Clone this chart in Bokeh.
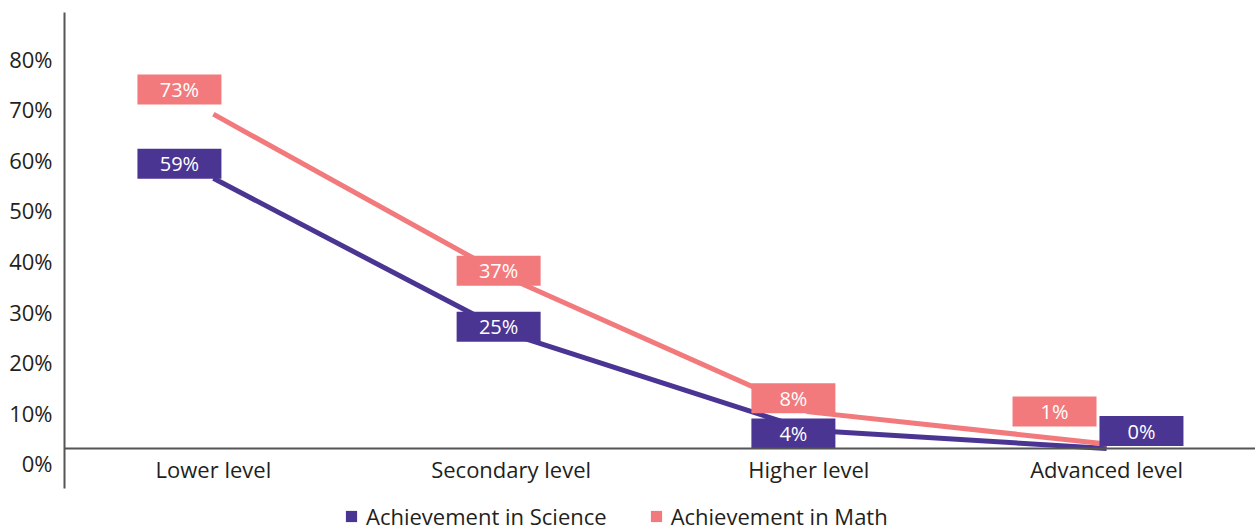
from bokeh.plotting import figure
from bokeh.models import (Range1d, LinearAxis, FixedTicker, Legend, LegendItem,
                          ColumnDataSource, Span)
from bokeh.core.properties import value
from bokeh.embed import file_html
from bokeh.resources import INLINE

# ---- data -------------------------------------------------------------
categories = ["Lower level", "Secondary level", "Higher level", "Advanced level"]
science = [59, 25, 4, 0]
math = [73, 37, 8, 1]
y_ticks = [0, 10, 20, 30, 40, 50, 60, 70, 80]
y_tick_labels = ["0%", "10%", "20%", "30%", "40%", "50%", "60%", "70%", "80%"]
series_names = ["Achievement in Science", "Achievement in Math"]

# ---- style ------------------------------------------------------------
FONT = "Open Sans"
PURPLE = "#4B3593"
SALMON = "#F27A7C"
AXIS = "#555555"
TEXT = "#231F20"

# label box nudges (category units, percentage points)
sci_dx = [-0.114, -0.042, -0.052, 0.117]
sci_dy = [3.2, 1.6, -0.7, 3.8]
math_dx = [-0.114, -0.042, -0.052, -0.175]
math_dy = [5.4, 1.8, 3.0, 7.1]
cat_label_y = -4.4   # row for the category names, below the zero line

xs = list(range(len(categories)))

p = figure(width=1255, height=531,
           x_range=Range1d(-0.5, len(categories) - 0.5),
           y_range=Range1d(-18.12, 95.2),
           output_backend="svg", toolbar_location=None,
           x_axis_location=None, y_axis_location=None,
           min_border_left=64, min_border_right=0, min_border_top=12,
           min_border_bottom=0)
p.outline_line_color = None
p.xgrid.visible = False
p.ygrid.visible = False
p.background_fill_color = "white"
p.border_fill_color = "white"

# percentage scale on the left
p.extra_y_ranges = {"pct": Range1d(-13.51, 89.16)}
yax = LinearAxis(y_range_name="pct", ticker=FixedTicker(ticks=y_ticks),
                 bounds=(-5.0, 89.16),
                 major_label_overrides={t: s for t, s in zip(y_ticks, y_tick_labels)})
yax.axis_line_color = AXIS
yax.axis_line_width = 2
yax.major_tick_line_color = None
yax.minor_tick_line_color = None
yax.major_tick_out = 0
yax.major_tick_in = 0
yax.major_label_standoff = 12
yax.major_label_text_font = FONT
yax.major_label_text_font_size = "22px"
yax.major_label_text_color = TEXT
p.add_layout(yax, "left")

# zero line and category names
p.add_layout(Span(location=0, dimension="width", line_color=AXIS, line_width=2))
p.text(xs, [cat_label_y] * len(xs), text=categories, text_align="center",
       text_baseline="middle", text_color=TEXT, text_font=value(FONT),
       text_font_size="22px")

# lines
p.line(xs, science, line_color=PURPLE, line_width=5)
p.line(xs, math, line_color=SALMON, line_width=5)

# value labels in boxes
def boxes(vals, dx, dy, color):
    src = ColumnDataSource(dict(
        x=[i + d for i, d in zip(xs, dx)],
        y=[v + d for v, d in zip(vals, dy)],
        t=[f"{v}%" for v in vals]))
    r = p.rect("x", "y", width=84, height=30, width_units="screen",
               height_units="screen", fill_color=color, line_color=None,
               source=src)
    p.text("x", "y", text="t", text_align="center", text_baseline="middle",
           text_color="white", text_font=value(FONT), text_font_size="20px",
           source=src)
    return r

r_sci = boxes(science, sci_dx, sci_dy, PURPLE)
r_math = boxes(math, math_dx, math_dy, SALMON)

legend = Legend(items=[LegendItem(label=series_names[0], renderers=[r_sci]),
                       LegendItem(label=series_names[1], renderers=[r_math])],
                orientation="horizontal", location=(280, 0),
                label_text_font=FONT, label_text_font_size="22px",
                label_text_color=TEXT, glyph_width=14, glyph_height=14,
                label_standoff=8, spacing=42, padding=0, margin=0,
                border_line_color=None, background_fill_alpha=0)
p.add_layout(legend)

open("out.html", "w").write(file_html(p, INLINE))
